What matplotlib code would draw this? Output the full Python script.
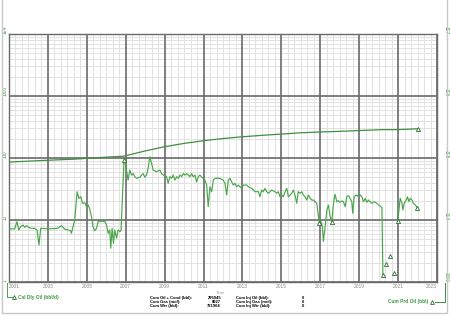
import numpy as np
import matplotlib
matplotlib.use("Agg")
import matplotlib.pyplot as plt
from matplotlib.ticker import FixedLocator, NullFormatter, LogLocator, NullLocator
from matplotlib.lines import Line2D
from matplotlib.patches import Rectangle

plt.rcParams["font.family"] = ["Liberation Sans", "DejaVu Sans"]

nan = np.nan
# ---------------- data ----------------
rate_years = [2001.00, 2001.29, 2001.41, 2001.50, 2001.60, 2001.72, 2001.81, 2001.89, 2002.01, 2002.15,
              2002.32, 2002.44, 2002.54, 2002.63, 2003.01, 2003.52, 2003.61, 2003.70, 2003.87, 2004.04,
              2004.16, 2004.21, 2004.29, 2004.38, 2004.50, 2004.59, 2004.69, 2004.78, 2004.90, 2004.98,
              2005.07, 2005.15, 2005.24, 2005.32, 2005.41, 2005.50, 2005.58, 2005.76, 2005.93, 2006.01,
              2006.10, 2006.18, 2006.23, 2006.30, 2006.37, 2006.44, 2006.53, 2006.61, 2006.70, 2006.76,
              2006.91, 2006.96, 2007.04, 2007.12, 2007.21, 2007.30, 2007.38, 2007.47, 2007.56, 2007.73,
              2007.81, 2007.90, 2007.98, 2008.07, 2008.15, 2008.24, 2008.33, 2008.41, 2008.59, 2008.76,
              2008.84, 2008.93, 2009.10, 2009.18, 2009.27, 2009.36, 2009.44, 2009.53, 2009.62, 2009.70,
              2009.79, 2009.87, 2009.96, 2010.04, 2010.13, 2010.21, 2010.30, 2010.39, 2010.47, 2010.56,
              2010.64, 2010.73, 2010.81, 2010.98, 2011.07, 2011.16, 2011.24, 2011.33, 2011.42, 2011.50,
              2011.59, 2011.84, 2012.01, 2012.10, 2012.19, 2012.27, 2012.36, 2012.45, 2012.53, 2012.62,
              2012.70, 2012.79, 2012.87, 2012.96, 2013.04, 2013.22, 2013.30, 2013.48, 2013.65, 2013.82,
              2013.90, 2013.99, 2014.07, 2014.16, 2014.25, 2014.33, 2014.42, 2014.50, 2014.67, 2014.76,
              2014.84, 2014.93, 2015.02, 2015.10, 2015.19, 2015.28, 2015.36, 2015.45, 2015.53, 2015.62,
              2015.70, 2015.79, 2015.87, 2015.96, 2016.05, 2016.13, 2016.22, 2016.31, 2016.39, 2016.48,
              2016.56, 2016.65, 2016.73, 2016.82, 2016.95, 2017.04, 2017.11, 2017.16, 2017.25, 2017.34,
              2017.42, 2017.51, 2017.59, 2017.68, 2017.76, 2017.85, 2017.93, 2018.02, 2018.11, 2018.19,
              2018.28, 2018.36, 2018.45, 2018.53, 2018.62, 2018.67, 2018.74, 2018.84, 2018.91, 2019.01,
              2019.14, 2019.22, 2019.31, 2019.39, 2019.48, 2019.56, 2019.65, 2019.73, 2019.82, 2019.91,
              2019.99, 2020.11, 2020.17, 2020.22, 2020.30, 2020.39, 2020.48, 2020.58, 2020.70, 2020.81,
              2020.90, 2020.99, 2021.06, 2021.11, 2021.20, 2021.25, 2021.31, 2021.42, 2021.48, 2021.56,
              2021.62, 2021.71, 2021.79, 2021.88, 2021.99]
rate_values = [7.2, 7.2, 9.4, 6.9, 7.8, 8.3, 7.6, 8.1, 7.6, 7.35,
               7.35, 6.9, 3.95, 7.35, 7.2, 7.35, 7.8, 8.1, 7.1, 6.9,
               6.7, 6.1, 7.8, 10.0, 28.6, 22.4, 23.8, 18.6, 19.0, 16.4,
               17.5, 15.0, 11.3, 7.8, 6.7, 7.35, 9.4, 9.6, 9.4, 8.3,
               6.1, 6.9, 3.5, 7.35, 4.2, 6.9, 5.1, 6.9, 6.5, 6.8,
               93.0, 87.0, 64.0, 44.0, 64.0, 53.0, 56.0, 50.0, 47.0, 49.0,
               53.0, 56.0, 49.0, 53.0, 68.0, 105.0, 82.0, 64.0, 60.0, 64.0,
               56.0, 53.0, 50.0, 39.0, 50.0, 47.0, 53.0, 44.0, 50.0, 47.0,
               53.0, 50.0, 56.0, 53.0, 56.0, 53.0, 50.0, 56.0, 50.0, 53.0,
               41.0, 50.0, 53.0, 47.0, 44.0, 36.7, 16.4, 34.4, 28.6, 44.0,
               47.0, 47.0, 44.0, 39.0, 25.3, 44.0, 47.0, 41.0, 36.6, 39.0,
               34.4, 36.6, 34.4, 32.4, 36.6, 36.6, 34.4, 32.4, 28.6, 28.6,
               23.7, 30.4, 28.6, 32.4, 28.6, 27.0, 28.6, 30.4, 28.6, 27.0,
               28.6, 23.7, 25.3, 23.7, 28.6, 32.4, 23.7, 25.3, 27.0, 30.4,
               25.3, 18.6, 28.6, 27.0, 28.6, 25.3, 23.7, 21.0, 25.3, 22.4,
               21.0, 21.0, 19.7, 18.6, 8.8, 9.4, 7.8, 4.5, 7.8, 14.5,
               17.5, 11.3, 9.4, 18.6, 26.0, 19.7, 20.5, 19.3, 20.3, 19.7,
               16.4, 23.7, 24.7, 22.4, 19.7, 12.8, 23.7, 25.3, 24.3, 26.2,
               23.7, 19.7, 22.4, 19.3, 21.0, 19.7, 18.6, 19.7, 19.3, 18.6,
               17.5, 16.4, 16.0, 1.3, nan, 1.95, nan, 2.65, nan, 1.38,
               nan, 9.75, 16.4, 22.4, 18.6, 14.5, 18.6, 21.0, 23.7, 19.7,
               22.4, 21.0, 18.6, 17.5, 15.8]
rate_marked_years = [2006.91, 2016.95, 2017.59, 2020.22, 2020.39, 2020.58, 2020.81, 2020.99, 2021.99]

cum_years = [2001.0, 2003.0, 2004.4, 2005.5, 2006.9, 2008.0, 2009.0, 2010.0, 2011.0, 2012.0, 2013.0,
             2014.0, 2015.0, 2016.0, 2017.0, 2018.0, 2019.0, 2020.0, 2020.25, 2021.0, 2022.0]
cum_values = [8.6e4, 9.2e4, 9.6e4, 1.01e5, 1.07e5, 1.30e5, 1.52e5, 1.72e5, 1.90e5, 2.06e5, 2.20e5,
              2.32e5, 2.43e5, 2.55e5, 2.63e5, 2.69e5, 2.77e5, 2.85e5, 2.87e5, 2.87e5, 2.96e5]

x_ticks = list(range(2001, 2024, 2))
x_labels = [str(y) for y in x_ticks]
left_ticks = [1, 10, 100, 1000, 10000]
left_labels = ["1", "10", "100", "1000", "1E4"]
right_ticks = [1e3, 1e4, 1e5, 1e6, 1e7]
right_labels = ["1000", "1E4", "1E5", "1E6", "1E7"]

stat_names_a = ["Cum Oil + Cond (bbl):", "Cum Gas (mcf):", "Cum Wtr (bbl):"]
stat_vals_a = [295945, 8927, 721904]
stat_names_b = ["Cum Inj Oil (bbl):", "Cum Inj Gas (mcf):", "Cum Inj Wtr (bbl):"]
stat_vals_b = [0, 0, 0]

# ---------------- style ----------------
GREEN_RATE = "#4aa64a"
GREEN_CUM = "#3f8f3f"
GREEN_TXT = "#3a963a"
MARK = "#2e6e2e"
MAJOR = "#6a6a6a"
MINOR = "#e2e2e2"
W, H = 450, 315

fig = plt.figure(figsize=(4.5, 3.15), dpi=100)
fig.patch.set_facecolor("white")

def fx(px):
    return px / W

def fy(py):
    return 1 - py / H

ax = fig.add_axes([fx(9), fy(282), fx(437) - fx(9), fy(34) - fy(282)])
ax.set_xlim(2001, 2023)
ax.set_yscale("log")
ax.set_ylim(1, 1e4)
ax.set_axisbelow(True)

ax.set_xticks(x_ticks)
ax.set_xticklabels(x_labels)
minor_x = [v for v in np.linspace(2001, 2023, 67) if min(abs(v - t) for t in x_ticks) > 1e-6]
ax.xaxis.set_minor_locator(FixedLocator(minor_x))
ax.yaxis.set_minor_locator(LogLocator(base=10, subs=np.arange(2, 10)))
ax.yaxis.set_minor_formatter(NullFormatter())
ax.set_yticks(left_ticks, left_labels, rotation=90, va="bottom", ha="right",
              color=GREEN_TXT, fontsize=3.3)
# light minor grid via axis; heavy major grid as reference lines on top of it
ax.grid(which="minor", color=MINOR, lw=0.7)
ax.grid(which="major", visible=False)
for t in x_ticks:
    ax.axvline(t, color=MAJOR, lw=1.2, zorder=1)
for t in left_ticks:
    ax.axhline(t, color=MAJOR, lw=1.2, zorder=1)
ax.tick_params(which="both", length=0)
ax.tick_params(axis="y", pad=1.2)
ax.tick_params(axis="x", pad=1.8, labelsize=3.5, labelcolor="#8a8a8a")
xl = ax.get_xticklabels()
xl[0].set_ha("left")
xl[-1].set_ha("right")
for s in ax.spines.values():
    s.set_color(MAJOR)
    s.set_linewidth(1.0)

ax2 = ax.twinx()
ax2.set_yscale("log")
ax2.set_ylim(1e3, 1e7)
ax2.yaxis.set_minor_locator(NullLocator())
ax2.set_yticks(right_ticks, right_labels, rotation=270, va="bottom", ha="left",
               color=GREEN_TXT, fontsize=3.3)
ax2.tick_params(which="both", length=0)
ax2.tick_params(axis="y", pad=4.5)
for s in ax2.spines.values():
    s.set_visible(False)

# rate line (left axis)
ry = np.array(rate_years, dtype=float)
rv = np.array(rate_values, dtype=float)
mark_idx = [i for i, y in enumerate(rate_years) if y in rate_marked_years]
ax.plot(ry, rv, color=GREEN_RATE, lw=0.85, zorder=3,
        marker="^", markevery=mark_idx, markersize=3.0,
        markerfacecolor="white", markeredgecolor=MARK, markeredgewidth=0.6)

# cumulative line (right axis)
ax2.plot(cum_years, cum_values, color=GREEN_CUM, lw=0.9, zorder=3,
         marker="^", markevery=[len(cum_years) - 1], markersize=3.0,
         markerfacecolor="white", markeredgecolor=MARK, markeredgewidth=0.6)

# x label
fig.text(fx(220), fy(292.5), "Time", ha="center", va="center", fontsize=3.0, color="#9a9a9a")

# legend left
fig.add_artist(Line2D([fx(6.7), fx(6.7), fx(11.5)], [fy(283), fy(297), fy(297)],
                      color=GREEN_RATE, lw=0.7))
fig.add_artist(Line2D([fx(14)], [fy(296.6)], marker="^", markersize=2.8, color=MARK,
                      markerfacecolor="white", markeredgewidth=0.6))
fig.text(fx(18), fy(297), "Cal Dly Oil (bbl/d)", ha="left", va="center",
         fontsize=3.4, color=GREEN_TXT, fontweight="bold")

# legend right
fig.add_artist(Line2D([fx(434.5), fx(445), fx(445)], [fy(302), fy(302), fy(283)],
                      color=GREEN_CUM, lw=0.7))
fig.add_artist(Line2D([fx(431.5)], [fy(301.6)], marker="^", markersize=2.8, color=MARK,
                      markerfacecolor="white", markeredgewidth=0.6))
fig.text(fx(428), fy(302), "Cum Prd Oil (bbl)", ha="right", va="center",
         fontsize=3.4, color=GREEN_TXT, fontweight="bold")

# statistics block
SFS = 3.0
row_y = [298.0, 302.2, 306.3]
for i in range(3):
    fig.text(fx(150), fy(row_y[i]), stat_names_a[i], ha="left", va="center",
             fontsize=SFS, fontweight="bold", color="black")
    fig.text(fx(221), fy(row_y[i]), str(stat_vals_a[i]), ha="right", va="center",
             fontsize=SFS, fontweight="bold", color="black")
    fig.text(fx(236), fy(row_y[i]), stat_names_b[i], ha="left", va="center",
             fontsize=SFS, fontweight="bold", color="black")
    fig.text(fx(302.5), fy(row_y[i]), str(stat_vals_b[i]), ha="center", va="center",
             fontsize=SFS, fontweight="bold", color="black")

# outer frame
fig.add_artist(Rectangle((fx(1.5), fy(313)), fx(447) - fx(1.5), fy(-2) - fy(313),
                         transform=fig.transFigure, fill=False, edgecolor="#c8c8c8", lw=1.0))

fig.savefig("out.png", dpi=100)
